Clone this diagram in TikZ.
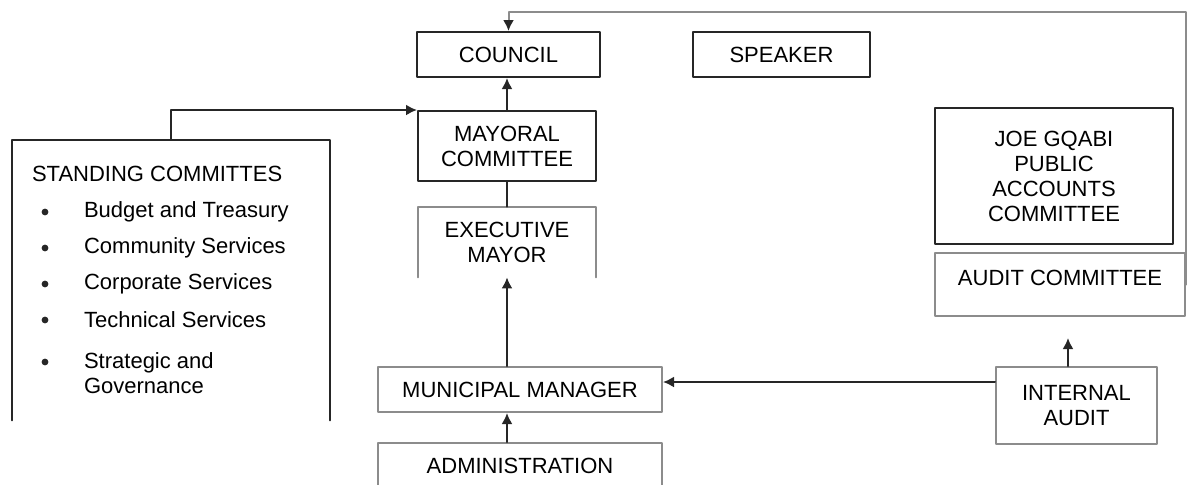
\documentclass[tikz,border=0pt]{standalone}
\usepackage{fontspec}
\setmainfont{Liberation Sans}
\usetikzlibrary{arrows.meta}
\definecolor{boxline}{gray}{0.15}
\definecolor{softline}{gray}{0.55}
\begin{document}
\begin{tikzpicture}[x=0.5pt,y=-0.5pt,line cap=round,line join=round,
  font=\fontsize{11}{12.5}\selectfont,
  box/.style={draw=boxline,line width=1pt,inner sep=0pt,align=center},
  softbox/.style={box,draw=softline},
  openbox/.style={inner sep=0pt,align=center},
  edge/.style={draw=boxline,line width=1pt},
  arr/.style={edge,-{Latex[length=5.5pt,width=5.5pt,color=boxline]}}]
  \useasboundingbox (0,0) rectangle (1191,484);

  \node[box,minimum width=91.5pt,minimum height=22.5pt] (council) at (508.5,54.5) {COUNCIL};
  \node[box,minimum width=88.5pt,minimum height=22.5pt] (speaker) at (781.5,54.5) {SPEAKER};
  \node[box,minimum width=89pt,minimum height=35pt] (mayoral) at (507,146) {MAYORAL\\COMMITTEE};
  \node[openbox,minimum width=89pt,minimum height=35pt] (exec) at (507,242) {EXECUTIVE\\MAYOR};
  \node[softbox,minimum width=142pt,minimum height=22.5pt] (mm) at (520,389.5) {MUNICIPAL MANAGER};
  \node[softbox,minimum width=142pt,minimum height=23pt] (admin) at (520,466) {ADMINISTRATION};
  \node[softbox,minimum width=80.5pt,minimum height=38.5pt] (internal) at (1076.5,405.5) {INTERNAL\\AUDIT};
  \node[softbox,minimum width=125pt,minimum height=31.5pt,text depth=7pt] (audit) at (1060,284.5) {AUDIT COMMITTEE};
  \node[box,minimum width=119pt,minimum height=68pt] (joe) at (1054,176) {JOE GQABI\\PUBLIC\\ACCOUNTS\\COMMITTEE};

  % standing committees
  \node[openbox,minimum width=159pt,minimum height=140pt] (standing) at (171,280) {};
  \node[anchor=west] (stitle) at (25,174) {STANDING COMMITTES};
  \foreach \y/\t in {212/Budget and Treasury,248/Community Services,284/Corporate Services,320/Technical Services}{
    \fill[boxline] (45,\y) circle (1.7pt);
    \node[anchor=west] (item\y) at (77,\y) {\t};
  }
  \fill[boxline] (45,362) circle (1.7pt);
  \node[anchor=west,align=left] (item362) at (77,373.5) {Strategic and\\Governance};

  \draw[edge,draw=softline] (exec.south west) |- (exec.north east) -- (exec.south east);
  \draw[edge] (standing.south west) |- (standing.north east) -- (standing.south east);

  \draw[arr] (mayoral.north) -- (mayoral.north |- council.south);
  \draw[arr] (standing.north) |- (mayoral.north west);
  \draw[edge] (mayoral.south) -- (exec.north);
  \draw[arr] (exec.south |- mm.north) -- (exec.south);
  \draw[arr] (exec.south |- admin.north) -- (exec.south |- mm.south);
  \draw[arr] (internal.west |- 0,382) -- (mm.east |- 0,382);
  \coordinate (actip) at (1068,338);
  \draw[arr] (internal.north -| actip) -- (actip);
  \draw[arr,draw=softline] (audit.east) -- (audit.east |- 0,12) -| (council.north);
\end{tikzpicture}
\end{document}
